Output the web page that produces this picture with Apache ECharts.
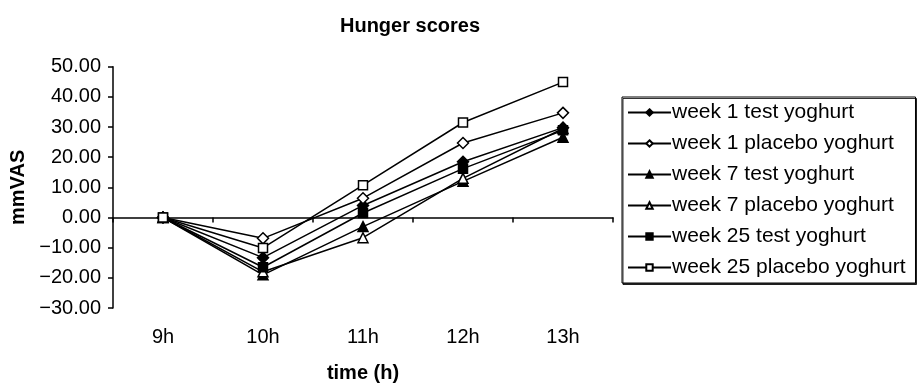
<!DOCTYPE html>
<html>
<head>
<meta charset="utf-8">
<script src="https://cdn.jsdelivr.net/npm/echarts@6/dist/echarts.min.js"></script>
<style>
html,body{margin:0;padding:0;background:#fff;}
#chart{width:918px;height:388px;}
</style>
</head>
<body>
<div id="chart"></div>
<script>
const categories = ['9h', '10h', '11h', '12h', '13h'];
const week1Test = [0, -13.3, 4.0, 18.5, 29.8];
const week1Placebo = [0, -6.9, 6.4, 24.7, 34.7];
const week7Test = [0, -19.0, -3.0, 12.0, 26.6];
const week7Placebo = [0, -18.0, -6.7, 13.0, 29.5];
const week25Test = [0, -16.5, 1.5, 16.2, 28.9];
const week25Placebo = [0, -10.1, 10.7, 31.5, 44.9];
const seriesNames = ['week 1 test yoghurt', 'week 1 placebo yoghurt', 'week 7 test yoghurt',
  'week 7 placebo yoghurt', 'week 25 test yoghurt', 'week 25 placebo yoghurt'];
const yTicks = { min: -30, max: 50, interval: 10 };

const FONT = 'Liberation Sans';
const chart = echarts.init(document.getElementById('chart'), null, { renderer: 'canvas' });

function mk(name, data, symbol, filled, size) {
  return {
    name: name,
    type: 'line',
    xAxisIndex: 0,
    data: data,
    symbol: symbol,
    symbolSize: size,
    showAllSymbol: true,
    lineStyle: { color: '#000', width: 1.5 },
    itemStyle: { color: filled ? '#000' : '#fff', borderColor: '#000', borderWidth: 1.5 },
    emphasis: { disabled: true },
    animation: false
  };
}

const option = {
  animation: false,
  backgroundColor: '#fff',
  title: {
    text: 'Hunger scores',
    left: 405, top: 11, textAlign: 'center',
    textStyle: { fontFamily: FONT, fontWeight: 'bold', fontSize: 20, color: '#000' }
  },
  grid: { left: 113, top: 66.7, width: 500, height: 249.3, containLabel: false },
  legend: {
    orient: 'vertical',
    left: 622, top: 97,
    padding: [5, 10, 5, 5],
    itemWidth: 43, itemHeight: 8,
    itemGap: 10,
    backgroundColor: '#fff',
    borderColor: '#000', borderWidth: 1,
    shadowColor: 'rgba(0,0,0,0.8)', shadowOffsetX: 1, shadowOffsetY: 1.5, shadowBlur: 0,
    textStyle: { fontFamily: FONT, fontSize: 21, color: '#000', padding: [0, 0, 0, -4] },
    data: seriesNames
  },
  xAxis: [
    {
      type: 'category', data: categories, boundaryGap: true,
      axisLine: { onZero: true, lineStyle: { color: '#000', width: 1.5 } },
      axisTick: { show: true, inside: false, length: 5, lineStyle: { color: '#000', width: 1.5 } },
      axisLabel: { show: false },
      splitLine: { show: false }
    },
    {
      type: 'category', data: categories, boundaryGap: true, position: 'bottom',
      axisLine: { show: false, onZero: false },
      axisTick: { show: false },
      axisLabel: { fontFamily: FONT, fontSize: 20, color: '#000', margin: 19 },
      splitLine: { show: false },
      name: 'time (h)', nameLocation: 'middle', nameGap: 55,
      nameTextStyle: { fontFamily: FONT, fontWeight: 'bold', fontSize: 20, color: '#000' }
    }
  ],
  yAxis: {
    type: 'value', min: yTicks.min, max: yTicks.max, interval: yTicks.interval,
    axisLine: { show: true, lineStyle: { color: '#000', width: 1.5 } },
    axisTick: { show: true, length: 5, lineStyle: { color: '#000', width: 1.5 } },
    axisLabel: {
      fontFamily: FONT, fontSize: 20, color: '#000', margin: 12,
      formatter: v => (v < 0 ? '\u2212' : '') + Math.abs(v).toFixed(2)
    },
    splitLine: { show: false },
    name: 'mmVAS', nameLocation: 'middle', nameGap: 77, nameRotate: 90,
    nameTextStyle: { fontFamily: FONT, fontWeight: 'bold', fontSize: 20, color: '#000' }
  },
  series: [
    mk(seriesNames[0], week1Test, 'diamond', true, 11),
    mk(seriesNames[1], week1Placebo, 'diamond', false, 11),
    mk(seriesNames[2], week7Test, 'triangle', true, 10),
    mk(seriesNames[3], week7Placebo, 'triangle', false, 10),
    mk(seriesNames[4], week25Test, 'rect', true, 9),
    mk(seriesNames[5], week25Placebo, 'rect', false, 9)
  ]
};
chart.setOption(option);
</script>
</body>
</html>
